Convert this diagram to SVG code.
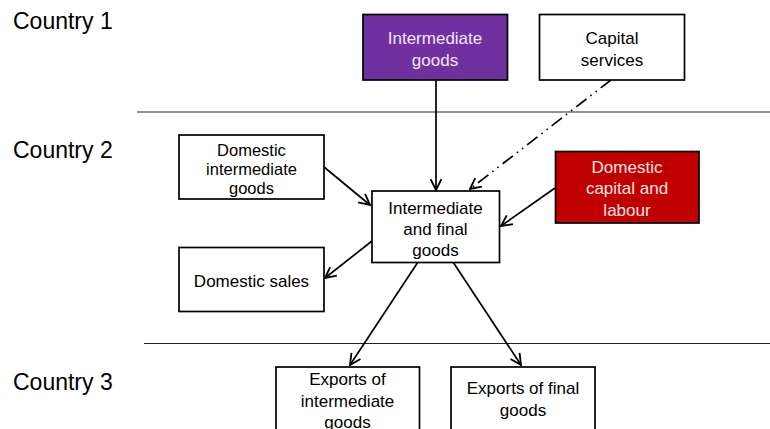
<svg xmlns="http://www.w3.org/2000/svg" width="770" height="429" viewBox="0 0 770 429">
<style>
.box{fill:#fff;stroke:#000;stroke-width:1.7}
.t{font-family:"Liberation Sans",Arial,sans-serif;font-size:17px;text-anchor:middle;fill:#000}
.s{font-size:16.5px}
.w{fill:#F3E6F8}
.wr{fill:#FBE3E3}
.c{font-family:"Liberation Sans",Arial,sans-serif;font-size:23px;fill:#000}
.sep{stroke:#222;stroke-width:1.2}
.a{stroke:#000;stroke-width:1.7;fill:none;marker-end:url(#ah)}
</style>
<defs>
<marker id="ah" viewBox="0 0 12 12" refX="11" refY="6" markerWidth="13" markerHeight="13" markerUnits="userSpaceOnUse" orient="auto">
<path d="M1,1 L11,6 L1,11" fill="none" stroke="#000" stroke-width="1.7"/>
</marker>
</defs>
<text class="c" x="13" y="29">Country 1</text>
<text class="c" x="13" y="158">Country 2</text>
<text class="c" x="13" y="390">Country 3</text>
<line class="sep" x1="137" y1="112" x2="770" y2="112"/>
<line class="sep" x1="144" y1="343.5" x2="770" y2="343.5"/>
<g id="connectors">
<line class="a" x1="436" y1="80" x2="436" y2="190"/>
<line class="a" x1="611" y1="80" x2="470" y2="189" stroke-dasharray="13,5,1.5,5,1.5,5"/>
<line class="a" x1="324" y1="167" x2="370" y2="205"/>
<line class="a" x1="555" y1="188" x2="501" y2="226"/>
<line class="a" x1="372" y1="241" x2="325" y2="278"/>
<line class="a" x1="418" y1="262" x2="350" y2="365" stroke-width="2.2"/>
<line class="a" x1="453" y1="262" x2="521" y2="365" stroke-width="2"/>
</g>
<g id="intermediate-goods">
<rect x="363" y="14.5" width="144.5" height="65.5" fill="#7030A0" stroke="#000" stroke-width="1.7"/>
<text class="t w" x="435" y="44">Intermediate</text>
<text class="t w" x="435" y="66">goods</text>
</g>
<g id="capital-services">
<rect class="box" x="539.5" y="14.5" width="145" height="65.5"/>
<text class="t" x="612" y="44">Capital</text>
<text class="t" x="612" y="66">services</text>
</g>
<g id="domestic-intermediate-goods">
<rect class="box" x="179" y="135" width="145" height="64"/>
<text class="t s" x="251.5" y="156">Domestic</text>
<text class="t s" x="251.5" y="175">intermediate</text>
<text class="t s" x="251.5" y="194">goods</text>
</g>
<g id="intermediate-and-final-goods">
<rect class="box" x="372" y="191" width="127.5" height="71.5"/>
<text class="t" x="435.5" y="214">Intermediate</text>
<text class="t" x="435.5" y="235">and final</text>
<text class="t" x="435.5" y="256">goods</text>
</g>
<g id="domestic-capital-and-labour">
<rect x="555.5" y="151.5" width="143.5" height="71.5" fill="#C00000" stroke="#000" stroke-width="1.7"/>
<text class="t wr" x="627" y="172.5">Domestic</text>
<text class="t wr" x="627" y="194">capital and</text>
<text class="t wr" x="627" y="216">labour</text>
</g>
<g id="domestic-sales">
<rect class="box" x="179" y="247.5" width="145" height="64"/>
<text class="t" x="251.5" y="286.5">Domestic sales</text>
</g>
<g id="exports-intermediate">
<rect class="box" x="276" y="367" width="143.5" height="70"/>
<text class="t" x="347.5" y="385">Exports of</text>
<text class="t" x="347.5" y="407">intermediate</text>
<text class="t" x="347.5" y="428">goods</text>
</g>
<g id="exports-final">
<rect class="box" x="451" y="367" width="144" height="70"/>
<text class="t" x="523" y="394">Exports of final</text>
<text class="t" x="523" y="416">goods</text>
</g>
</svg>
